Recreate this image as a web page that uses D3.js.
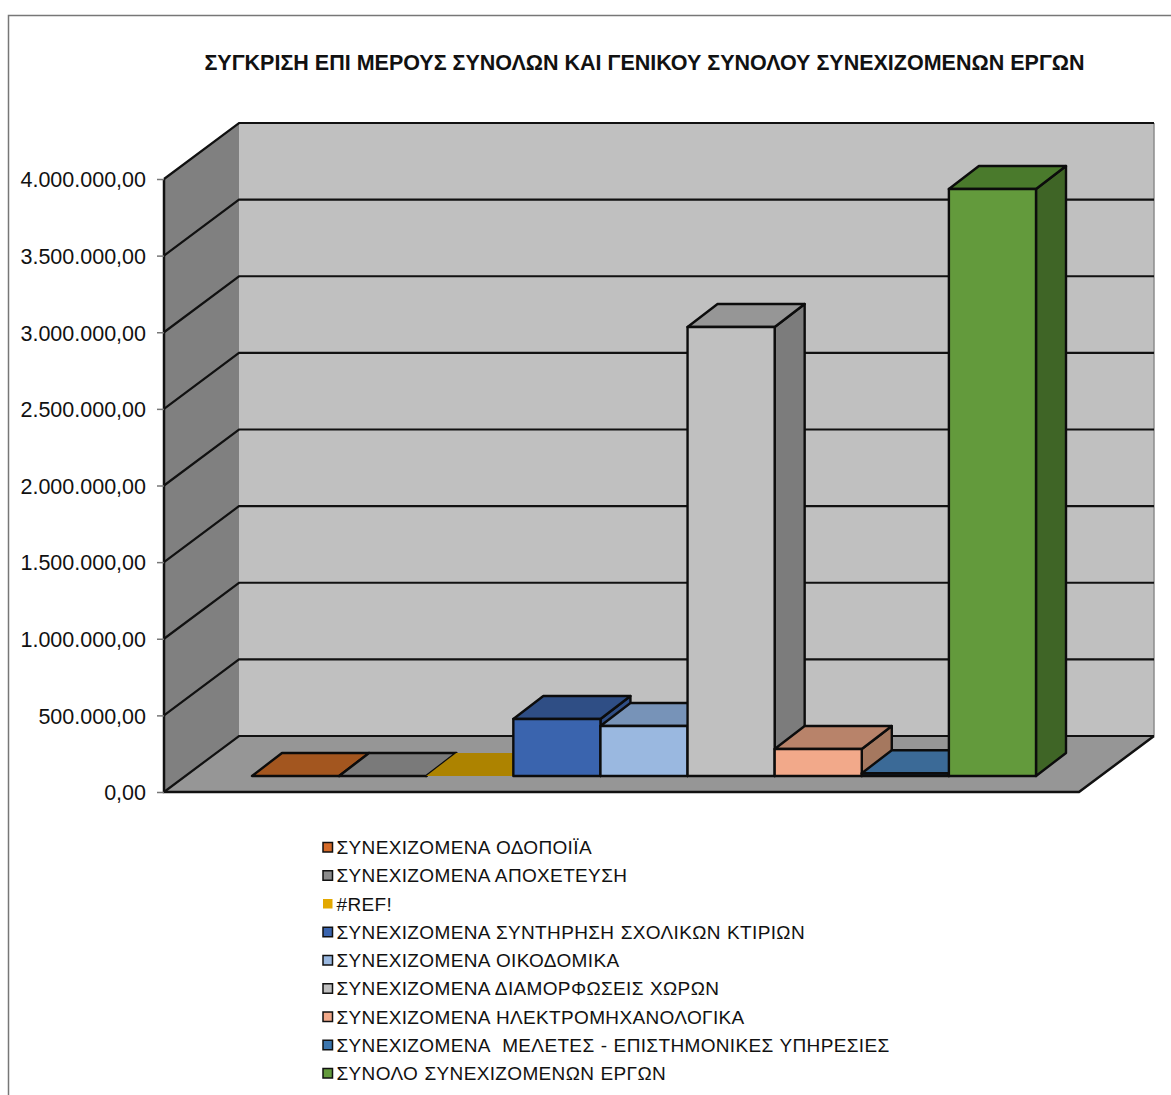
<!DOCTYPE html>
<html>
<head>
<meta charset="utf-8">
<script src="https://cdn.jsdelivr.net/npm/d3@7"></script>
<style>
html, body { margin: 0; padding: 0; background: #fff; }
svg { display: block; }
text { font-family: "Liberation Sans", Arial, sans-serif; fill: #111; white-space: pre; }
</style>
</head>
<body>
<div id="root"></div>
<script>
var title = "ΣΥΓΚΡΙΣΗ ΕΠΙ ΜΕΡΟΥΣ ΣΥΝΟΛΩΝ ΚΑΙ ΓΕΝΙΚΟΥ ΣΥΝΟΛΟΥ ΣΥΝΕΧΙΖΟΜΕΝΩΝ ΕΡΓΩΝ";

var seriesNames = [
    "ΣΥΝΕΧΙΖΟΜΕΝΑ ΟΔΟΠΟΙΪΑ",
    "ΣΥΝΕΧΙΖΟΜΕΝΑ ΑΠΟΧΕΤΕΥΣΗ",
    "#REF!",
    "ΣΥΝΕΧΙΖΟΜΕΝΑ ΣΥΝΤΗΡΗΣΗ ΣΧΟΛΙΚΩΝ ΚΤΙΡΙΩΝ",
    "ΣΥΝΕΧΙΖΟΜΕΝΑ ΟΙΚΟΔΟΜΙΚΑ",
    "ΣΥΝΕΧΙΖΟΜΕΝΑ ΔΙΑΜΟΡΦΩΣΕΙΣ ΧΩΡΩΝ",
    "ΣΥΝΕΧΙΖΟΜΕΝΑ ΗΛΕΚΤΡΟΜΗΧΑΝΟΛΟΓΙΚΑ",
    "ΣΥΝΕΧΙΖΟΜΕΝΑ  ΜΕΛΕΤΕΣ - ΕΠΙΣΤΗΜΟΝΙΚΕΣ ΥΠΗΡΕΣΙΕΣ",
    "ΣΥΝΟΛΟ ΣΥΝΕΧΙΖΟΜΕΝΩΝ ΕΡΓΩΝ"
];
var seriesValues = [0, 0, 0, 372000, 326000, 2930000, 176000, 18000, 3830000];
var tickValues = [0, 500000, 1000000, 1500000, 2000000, 2500000, 3000000, 3500000, 4000000];

var frontColors = ["#d46a28", "#8c8c8c", "#e3a800", "#3a64ae", "#9ab8e0", "#c0c0c0", "#f2a98a", "#0b2545", "#639a3c"];
var topColors = ["#a3561f", "#7a7a7a", "#ad8300", "#2f4e85", "#7793b8", "#969696", "#b8836a", "#3b6a97", "#4a7a2c"];
var sideColors = ["#8a4a1a", "#6a6a6a", "#8f6c00", "#2f4e85", "#6a85a8", "#7c7c7c", "#a5785f", "#2f5478", "#3f6526"];
var legendColors = ["#d46a28", "#8c8c8c", "#e3a800", "#3a64ae", "#9ab8e0", "#c0c0c0", "#f2a98a", "#3b75ad", "#639a3c"];

var W = 1171, H = 1095;
var wall = { x0: 164, x1: 1079, yTop: 179, yBottom: 792, dx: 75, dy: -56 };
var bar = { bottom: 776, left: 252, right: 1036, dx: 30, dy: -23 };

var svg = d3.select("#root").append("svg").attr("width", W).attr("height", H);

// outer frame, only top and left are inside the crop
svg.append("path")
    .attr("d", "M8.5," + H + "V15.5H" + W)
    .attr("fill", "none").attr("stroke", "#777").attr("stroke-width", 1.5);

svg.append("text")
    .attr("x", 644.5).attr("y", 69.5)
    .attr("text-anchor", "middle")
    .attr("font-size", 21.5).attr("font-weight", "bold")
    .text(title);

var y = d3.scaleLinear().domain([0, 4000000]).range([wall.yBottom, wall.yTop]);
var x = d3.scaleBand().domain(seriesNames).range([bar.left, bar.right]).padding(0);
var barHeight = d3.scaleLinear().domain([0, 4000000]).range([0, wall.yBottom - wall.yTop]);

var numberFormat = d3.formatLocale({ decimal: ",", thousands: ".", grouping: [3], currency: ["", ""] }).format(",.2f");

function poly(points) {
    return d3.line()(points) + "Z";
}

// side wall
svg.append("path")
    .attr("d", poly([[wall.x0, y(0)], [wall.x0 + wall.dx, y(0) + wall.dy], [wall.x0 + wall.dx, y(4000000) + wall.dy], [wall.x0, y(4000000)]]))
    .attr("fill", "#808080");
// back wall
svg.append("rect")
    .attr("x", wall.x0 + wall.dx).attr("y", y(4000000) + wall.dy)
    .attr("width", wall.x1 - wall.x0).attr("height", y(0) - y(4000000))
    .attr("fill", "#c0c0c0");
svg.append("path")
    .attr("d", "M" + (wall.x1 + wall.dx) + "," + (y(4000000) + wall.dy) + "V" + (y(0) + wall.dy))
    .attr("stroke", "#8c8c8c").attr("stroke-width", 1.5);
// floor
svg.append("path")
    .attr("d", poly([[wall.x0, y(0)], [wall.x1, y(0)], [wall.x1 + wall.dx, y(0) + wall.dy], [wall.x0 + wall.dx, y(0) + wall.dy]]))
    .attr("fill", "#969696");

// gridlines run along side wall then back wall
svg.selectAll(".grid")
    .data(tickValues)
    .enter()
    .append("path")
    .attr("class", "grid")
    .attr("d", function (d) {
        return "M" + wall.x0 + "," + y(d) + "L" + (wall.x0 + wall.dx) + "," + (y(d) + wall.dy) + "H" + (wall.x1 + wall.dx);
    })
    .attr("fill", "none").attr("stroke", "#111").attr("stroke-width", 2.2);

svg.append("path")
    .attr("d", "M" + wall.x0 + "," + y(4000000) + "V" + y(0) + "H" + wall.x1 + "L" + (wall.x1 + wall.dx) + "," + (y(0) + wall.dy))
    .attr("fill", "none").attr("stroke", "#111").attr("stroke-width", 2.5);

var yAxis = d3.axisLeft(y).tickValues(tickValues).tickFormat(numberFormat).tickSize(7).tickPadding(11);
var axisG = svg.append("g")
    .attr("transform", "translate(" + wall.x0 + ",0)")
    .call(yAxis);
axisG.select(".domain").remove();
axisG.selectAll(".tick line").attr("stroke", "#777").attr("stroke-width", 1.5);
axisG.selectAll(".tick text").attr("font-size", 21.5).attr("font-family", "Liberation Sans").attr("fill", "#111").attr("dy", "0.36em");

// left to right, the next bar's top and front cover this bar's side
var bars = svg.selectAll(".bar")
    .data(seriesNames)
    .enter()
    .append("g")
    .attr("class", "bar")
    .attr("stroke", function (d, i) { return i === 2 ? "none" : "#0c0c0c"; })
    .attr("stroke-width", 2.4)
    .attr("stroke-linejoin", "round");

bars.each(function (d, i) {
    var g = d3.select(this),
        x0 = x(d),
        x1 = x0 + x.bandwidth(),
        yb = bar.bottom,
        yt = bar.bottom - barHeight(seriesValues[i]);

    g.append("path")
        .attr("d", poly([[x1, yb], [x1 + bar.dx, yb + bar.dy], [x1 + bar.dx, yt + bar.dy], [x1, yt]]))
        .attr("fill", sideColors[i]);
    g.append("path")
        .attr("d", poly([[x0, yt], [x1, yt], [x1 + bar.dx, yt + bar.dy], [x0 + bar.dx, yt + bar.dy]]))
        .attr("fill", topColors[i]);
    g.append("rect")
        .attr("x", x0).attr("y", yt)
        .attr("width", x.bandwidth()).attr("height", yb - yt)
        .attr("fill", frontColors[i]);
});

var legendY = d3.scalePoint().domain(seriesNames).range([847, 1073]);

var legend = svg.selectAll(".legend")
    .data(seriesNames)
    .enter()
    .append("g")
    .attr("class", "legend")
    .attr("transform", function (d) { return "translate(0," + legendY(d) + ")"; });

legend.append("rect")
    .attr("x", 323).attr("y", -4.5)
    .attr("width", 9.5).attr("height", 9.5)
    .attr("fill", function (d, i) { return legendColors[i]; })
    .attr("stroke", function (d, i) { return i === 2 ? "none" : "#111"; })
    .attr("stroke-width", 1.5);

legend.append("text")
    .attr("x", 336.5).attr("y", 7)
    .attr("font-size", 19)
    .attr("letter-spacing", 0.35)
    .attr("word-spacing", 0.6)
    .text(function (d) { return d; });
</script>
</body>
</html>
